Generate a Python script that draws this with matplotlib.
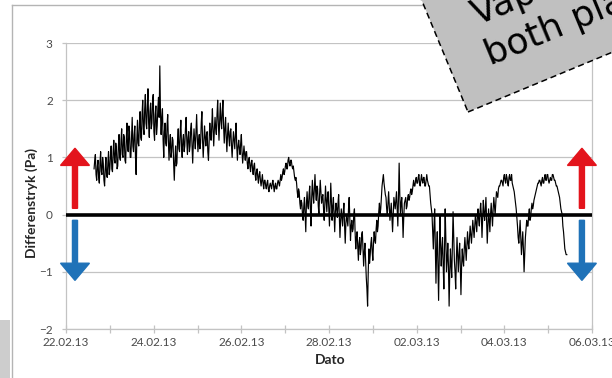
import matplotlib
matplotlib.use("Agg")
import matplotlib.pyplot as plt
import matplotlib.dates as mdates
from matplotlib.patches import FancyArrow, Polygon, Rectangle
from matplotlib.lines import Line2D
import numpy as np
from datetime import datetime, timedelta

# --- data -------------------------------------------------------------
series_start = datetime(2013, 2, 22, 15, 22)   # first logged sample
sample_step_days = 0.015                          # logger interval

pressure_pa = [
    0.8, 0.95, 1.05, 0.7, 0.6, 0.85, 0.95, 0.65, 0.55, 0.9, 1.1, 0.75, 0.7, 1.0, 0.9, 0.6, 0.5, 0.8, 1.0, 0.7,
    0.65, 0.9, 1.1, 0.7, 0.8, 1.05, 1.2, 0.8, 0.75, 1.1, 1.3, 0.95, 0.9, 1.25, 1.15, 0.8, 0.85, 1.2, 1.4, 1.0,
    0.95, 1.3, 1.5, 1.05, 1.0, 1.4, 1.35, 0.95, 0.9, 1.3, 1.6, 1.15, 1.1, 1.55, 1.45, 1.0, 1.0, 1.35, 1.7, 1.2,
    1.1, 1.4, 1.55, 1.0, 0.7, 1.3, 1.65, 1.25, 1.2, 1.6, 1.8, 1.35, 1.3, 1.75, 2.0, 1.5, 1.4, 1.85, 2.1, 1.6,
    1.5, 1.9, 2.2, 1.6, 1.35, 1.8, 1.95, 1.5, 1.6, 2.0, 2.1, 1.45, 1.3, 1.75, 1.9, 1.4, 1.55, 1.85, 2.05, 1.7,
    2.6, 1.8, 1.4, 1.7, 1.85, 1.3, 1.0, 1.45, 1.6, 1.25, 1.2, 1.55, 1.75, 1.3, 0.95, 1.25, 1.4, 1.0, 1.1, 1.35,
    1.3, 0.9, 0.6, 0.95, 1.2, 0.85, 0.9, 1.3, 1.5, 1.15, 1.1, 1.45, 1.65, 1.2, 1.0, 1.3, 1.4, 1.1, 1.2, 1.5,
    1.7, 1.3, 1.05, 1.35, 1.45, 1.1, 1.2, 1.5, 1.6, 1.2, 0.9, 1.25, 1.5, 1.3, 1.15, 1.45, 1.75, 1.35, 1.1, 1.3,
    1.4, 1.15, 1.25, 1.6, 1.8, 1.3, 1.0, 1.3, 1.55, 1.35, 1.2, 1.4, 1.45, 1.1, 0.95, 1.3, 1.6, 1.4, 1.3, 1.55,
    1.85, 1.45, 1.2, 1.5, 1.7, 1.5, 1.4, 1.75, 2.0, 1.6, 1.3, 1.6, 1.95, 1.65, 1.5, 1.8, 2.0, 1.55, 1.25, 1.5,
    1.7, 1.35, 1.1, 1.4, 1.6, 1.35, 1.2, 1.45, 1.5, 1.2, 1.0, 1.25, 1.45, 1.3, 1.15, 1.4, 1.6, 1.2, 0.95, 1.2,
    1.3, 1.15, 1.05, 1.25, 1.4, 1.1, 0.9, 1.05, 1.2, 1.05, 0.95, 1.1, 1.1, 0.9, 0.8, 0.95, 1.0, 0.85, 0.75, 0.9,
    0.95, 0.8, 0.7, 0.85, 0.9, 0.7, 0.6, 0.75, 0.8, 0.65, 0.55, 0.7, 0.75, 0.6, 0.5, 0.6, 0.7, 0.55, 0.45, 0.6,
    0.6, 0.5, 0.45, 0.55, 0.6, 0.45, 0.4, 0.5, 0.55, 0.5, 0.45, 0.55, 0.6, 0.5, 0.4, 0.5, 0.55, 0.45, 0.45, 0.55,
    0.6, 0.55, 0.5, 0.6, 0.7, 0.6, 0.65, 0.75, 0.8, 0.7, 0.75, 0.85, 0.9, 0.8, 0.8, 0.95, 1.0, 0.9, 0.85, 0.95,
    0.95, 0.85, 0.8, 0.85, 0.75, 0.65, 0.6, 0.65, 0.55, 0.4, 0.3, 0.45, 0.4, 0.2, 0.1, 0.25, 0.2, 0.0, -0.1, 0.15,
    0.3, 0.0, -0.3, 0.2, 0.4, 0.15, 0.1, 0.35, 0.5, 0.1, -0.2, 0.3, 0.6, 0.35, 0.2, 0.45, 0.7, 0.4, 0.25, 0.5,
    0.45, 0.15, 0.0, 0.35, 0.6, 0.4, 0.2, 0.3, 0.35, 0.1, -0.1, 0.2, 0.5, 0.25, 0.05, 0.3, 0.4, 0.1, -0.2, 0.15,
    0.55, 0.2, -0.1, 0.15, 0.3, 0.0, -0.3, 0.05, 0.2, 0.1, -0.05, 0.2, 0.35, 0.0, -0.4, -0.1, 0.1, -0.05, -0.2, 0.05,
    0.2, -0.2, -0.5, -0.15, 0.0, -0.1, -0.2, 0.1, 0.3, -0.1, -0.45, -0.2, -0.1, -0.3, -0.25, 0.0, 0.1, -0.3, -0.6, -0.4,
    -0.3, -0.55, -0.8, -0.5, -0.4, -0.7, -0.6, -0.35, -0.3, -0.6, -0.9, -0.65, -0.5, -0.8, -1.1, -1.3, -1.6, -1.0, -0.6, -0.85,
    -0.7, -0.5, -0.4, -0.65, -0.8, -0.5, -0.3, -0.45, -0.5, -0.25, -0.1, -0.3, -0.2, 0.05, 0.2, 0.0, 0.1, 0.3, 0.5, 0.6,
    0.7, 0.55, 0.45, 0.35, 0.3, 0.1, 0.0, 0.2, 0.4, 0.15, -0.1, 0.05, 0.2, -0.05, -0.3, 0.0, 0.3, 0.2, 0.1, 0.25,
    0.4, 0.1, -0.2, 0.3, 0.9, 0.35, 0.0, 0.2, 0.3, 0.0, -0.4, -0.05, 0.2, 0.25, 0.3, 0.1, 0.15, 0.3, 0.35, 0.25,
    0.3, 0.4, 0.45, 0.35, 0.4, 0.5, 0.6, 0.5, 0.5, 0.6, 0.65, 0.55, 0.55, 0.65, 0.7, 0.55, 0.5, 0.6, 0.7, 0.6,
    0.55, 0.65, 0.65, 0.5, 0.5, 0.6, 0.7, 0.6, 0.55, 0.5, 0.5, 0.35, 0.2, 0.1, 0.0, -0.3, -0.6, -0.2, 0.1, -0.5,
    -1.2, -0.6, -0.3, -0.9, -1.5, -0.7, 0.0, -0.5, -0.9, -0.6, -0.4, -0.9, -1.3, -0.6, 0.1, -0.4, -1.0, -0.8, -0.5, -0.9,
    -1.6, -1.0, -0.6, -0.9, -1.1, -0.5, 0.05, -0.4, -0.8, -1.0, -1.3, -0.8, -0.4, -0.7, -1.0, -0.7, -0.5, -0.9, -1.4, -0.9,
    -0.6, -0.8, -0.9, -0.6, -0.4, -0.6, -0.8, -0.55, -0.3, -0.5, -0.6, -0.4, -0.2, -0.35, -0.5, -0.3, -0.1, -0.25, -0.4, -0.2,
    0.0, -0.15, -0.3, -0.05, 0.1, -0.1, -0.2, 0.05, 0.2, 0.0, -0.4, -0.1, 0.25, 0.05, -0.1, 0.1, 0.3, -0.1, -0.5, -0.2,
    0.1, -0.1, -0.3, 0.0, 0.2, 0.0, -0.2, 0.1, 0.3, 0.15, 0.0, 0.2, 0.4, 0.35, 0.3, 0.45, 0.5, 0.5, 0.55, 0.6,
    0.6, 0.55, 0.5, 0.65, 0.7, 0.6, 0.55, 0.7, 0.65, 0.55, 0.5, 0.65, 0.7, 0.6, 0.6, 0.7, 0.55, 0.5, 0.45, 0.4,
    0.3, 0.2, 0.1, -0.05, -0.2, -0.4, -0.5, -0.3, -0.1, -0.4, -0.7, -0.5, -0.3, -0.6, -1.0, -0.7, -0.4, -0.25, -0.1, -0.2,
    -0.2, 0.0, 0.1, -0.1, -0.05, 0.1, 0.2, 0.1, 0.15, 0.25, 0.3, 0.35, 0.4, 0.45, 0.5, 0.55, 0.55, 0.6, 0.6, 0.55,
    0.5, 0.6, 0.65, 0.55, 0.55, 0.65, 0.7, 0.6, 0.6, 0.7, 0.7, 0.6, 0.55, 0.6, 0.65, 0.6, 0.6, 0.7, 0.7, 0.65,
    0.6, 0.6, 0.55, 0.5, 0.5, 0.45, 0.4, 0.35, 0.3, 0.2, 0.1, 0.05, 0.0, -0.2, -0.3, -0.45, -0.6, -0.65, -0.7, -0.7,
]

date_tick_labels = ["22.02.13", "24.02.13", "26.02.13", "28.02.13",
                    "02.03.13", "04.03.13", "06.03.13"]
y_ticks = [-2, -1, 0, 1, 2, 3]

# --- figure -----------------------------------------------------------
W, H = 612, 378
fig = plt.figure(figsize=(W / 100, H / 100), dpi=100)
fig.patch.set_facecolor("white")

def px(x, y):
    """image-style pixel coords (origin top-left) -> figure fraction"""
    return x / W, 1 - y / H

# outer chart frame
fig.add_artist(Line2D([12 / W, 1], [1 - 5 / H, 1 - 5 / H], transform=fig.transFigure,
                      color="#b4b4b4", lw=1.0))
fig.add_artist(Line2D([12 / W, 12 / W], [0, 1 - 5 / H], transform=fig.transFigure,
                      color="#b4b4b4", lw=1.0))
# neighbouring slide element at the bottom left
fig.add_artist(Rectangle((0, 0), 10 / W, 58 / H, transform=fig.transFigure,
                         facecolor="#cdcdcd", edgecolor="none"))

ax_left, ax_right = 66, 592
ax_top, ax_bottom = 43, 329
ax = fig.add_axes([ax_left / W, 1 - ax_bottom / H,
                   (ax_right - ax_left) / W, (ax_bottom - ax_top) / H])

times = [series_start + timedelta(days=sample_step_days * i) for i in range(len(pressure_pa))]
tick_dates = [datetime.strptime(s, "%d.%m.%y") for s in date_tick_labels]
minor_dates = [tick_dates[0] + timedelta(days=d) for d in range(1, 12, 2)]

grid_col = "#c3c3c3"
for v in y_ticks:
    if v != 0:
        ax.axhline(v, color=grid_col, lw=0.9, zorder=1)
ax.axhline(0, color="black", lw=2.6, zorder=3)
ax.plot(times, pressure_pa, color="black", lw=0.85, zorder=2)

ax.set_xlim(tick_dates[0], tick_dates[-1])
ax.set_ylim(-2, 3)
ax.set_yticks(y_ticks)
ax.set_xticks(tick_dates)
ax.set_xticklabels(date_tick_labels)
ax.set_xticks(minor_dates, minor=True)

ax.spines["top"].set_visible(False)
for s in ["left", "right", "bottom"]:
    ax.spines[s].set_color(grid_col)
    ax.spines[s].set_linewidth(0.9)

label_font = "Lato"
ax.tick_params(axis="x", which="major", direction="inout", length=6, width=0.9,
               color=grid_col, pad=3, labelsize=8.5, labelcolor="#4a4a4a")
ax.tick_params(axis="x", which="minor", direction="inout", length=6, width=0.9,
               color=grid_col)
ax.tick_params(axis="y", direction="out", length=3, width=0.9, color=grid_col,
               pad=6.5, labelsize=8.5, labelcolor="#4a4a4a")
for lab in ax.get_xticklabels() + ax.get_yticklabels():
    lab.set_fontfamily(label_font)

ax.set_ylabel("Differenstryk (Pa)", fontfamily=label_font, fontweight="bold",
              fontsize=10, color="#262626")
ax.yaxis.set_label_coords(-0.053, 0.44)
ax.set_xlabel("Dato", fontfamily=label_font, fontweight="bold", fontsize=10,
              color="#262626")
ax.xaxis.set_label_coords(0.502, -0.086)

# direction arrows on both sides of the plot
red, blue = "#e3141c", "#1f72b8"
for day in (0.205, 11.77):
    xa = mdates.date2num(tick_dates[0] + timedelta(days=day))
    ax.add_patch(FancyArrow(xa, 0.11, 0, 1.05, width=0.115, head_width=0.66,
                            head_length=0.30, length_includes_head=True,
                            color=red, clip_on=False, zorder=4))
    ax.add_patch(FancyArrow(xa, -0.10, 0, -1.05, width=0.115, head_width=0.66,
                            head_length=0.30, length_includes_head=True,
                            color=blue, clip_on=False, zorder=4))

# rotated callout box in the top-right corner
ang = np.deg2rad(22.5)
bl = np.array([468.0, 112.0])
along = np.array([np.cos(ang), -np.sin(ang)])
up = np.array([-np.sin(ang), -np.cos(ang)])
corners = [bl, bl + 320 * along, bl + 320 * along + 260 * up, bl + 260 * up]
fig.add_artist(Polygon([px(*c) for c in corners], closed=True, transform=fig.transFigure,
                       facecolor="#c0c0c0", edgecolor="black", lw=1.1,
                       linestyle=(0, (4, 2.5)), zorder=10))
fig.text(*px(477, 26), "Vapour", rotation=22.5, rotation_mode="anchor",
         ha="left", va="baseline", fontsize=26, fontfamily="DejaVu Sans",
         color="black", zorder=11)
fig.text(*px(490, 66), "both places", rotation=22.5, rotation_mode="anchor",
         ha="left", va="baseline", fontsize=26, fontfamily="DejaVu Sans",
         color="black", zorder=11)

fig.savefig("out.png", dpi=100)
